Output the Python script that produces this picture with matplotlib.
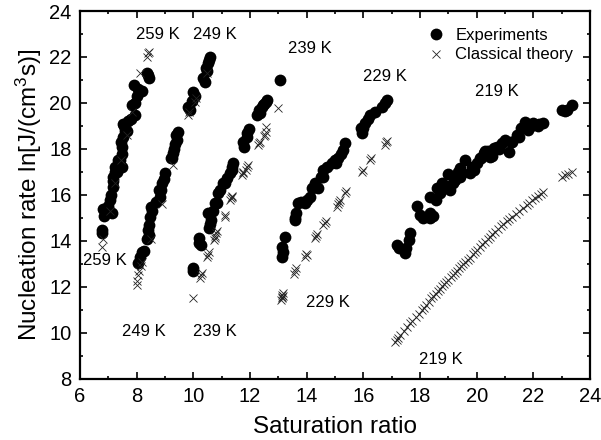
import matplotlib
matplotlib.use("Agg")
import matplotlib.pyplot as plt
from matplotlib.ticker import MultipleLocator

plt.rcParams['font.family'] = ['Liberation Sans', 'DejaVu Sans']
plt.rcParams['mathtext.default'] = 'regular'

# Experimental nucleation rates, ln J, by temperature
exp_259_S = [6.77, 6.77, 6.80, 7.12, 7.06, 7.18, 7.18, 7.24, 7.47, 7.47, 7.50, 7.53,
             7.53, 7.56, 7.94, 7.94, 7.90, 8.18, 8.41, 8.43, 7.30, 7.40, 7.65, 7.80,
             6.85, 7.00, 7.10, 7.15, 7.25, 7.35, 7.45, 7.60, 7.70, 7.85, 8.00, 8.05, 8.38]
exp_259_J = [14.48, 14.35, 15.38, 15.23, 15.78, 16.36, 16.80, 17.23, 17.23, 17.80, 18.10, 18.53,
             19.10, 19.00, 19.48, 19.99, 20.78, 20.50, 21.20, 21.10, 17.00, 17.50, 18.80, 19.30,
             15.10, 15.50, 16.00, 16.60, 17.00, 17.50, 18.30, 18.80, 19.20, 19.90, 20.30, 20.60, 21.30]

exp_249_S = [8.06, 8.18, 8.41, 8.47, 8.50, 8.82, 8.88, 9.00, 9.29, 9.41, 9.45, 9.82,
             10.00, 10.05, 10.35, 10.53, 10.58, 8.45, 8.85, 9.35, 9.20, 10.45,
             8.12, 8.25, 8.38, 8.44, 8.55, 8.70, 8.80, 8.95, 9.25, 9.32, 9.38, 9.88,
             9.95, 10.40, 10.48, 10.55]
exp_249_J = [13.03, 13.53, 14.48, 15.06, 15.49, 15.93, 16.51, 16.94, 17.81, 18.39, 18.75, 19.84,
             20.49, 20.30, 21.07, 21.72, 22.00, 14.25, 16.20, 18.20, 17.60, 21.50,
             13.30, 13.55, 14.10, 14.70, 15.30, 15.70, 16.20, 16.70, 17.60, 18.00, 18.60, 19.70,
             20.10, 20.90, 21.40, 21.85]

exp_239_S = [9.98, 10.21, 10.26, 10.53, 10.56, 10.62, 10.76, 10.88, 11.06, 11.29, 11.41, 11.76,
             11.88, 12.24, 12.35, 12.41, 12.59, 13.06, 11.88, 11.35, 11.12, 10.82, 11.95, 12.50,
             10.00, 10.20, 10.60, 10.70, 10.95, 11.20, 11.38, 11.80, 12.30, 12.45, 12.55]
exp_239_J = [12.81, 14.12, 13.83, 15.20, 14.55, 14.90, 15.64, 16.07, 16.51, 16.94, 17.38, 18.32,
             18.68, 19.48, 19.55, 19.84, 20.13, 21.00, 18.53, 17.23, 16.51, 15.64, 18.85, 19.95,
             12.70, 13.90, 14.75, 15.30, 16.20, 16.75, 17.10, 18.10, 19.70, 19.90, 20.05]

exp_229_S = [13.12, 13.12, 13.24, 13.59, 13.62, 13.71, 14.00, 14.29, 14.40, 14.59, 15.00, 15.29,
             15.35, 13.94, 14.59, 15.94, 16.06, 16.24, 16.65, 16.82, 14.30, 15.05, 15.90, 16.40,
             13.15, 13.60, 13.80, 14.10, 14.20, 14.50, 14.70, 14.90, 15.10, 15.20, 16.00, 16.15, 16.75]
exp_229_J = [13.32, 13.75, 14.19, 14.91, 15.20, 15.64, 15.78, 16.51, 16.30, 17.09, 17.52, 17.96,
             18.25, 15.64, 16.80, 18.68, 19.12, 19.48, 19.84, 20.13, 16.36, 17.40, 18.90, 19.60,
             13.50, 15.00, 15.70, 15.90, 16.30, 16.80, 17.20, 17.40, 17.60, 17.80, 18.90, 19.30, 20.00]

exp_219_S = [17.18, 17.47, 17.65, 17.60, 18.00, 18.35, 18.35, 18.35, 18.76, 19.06, 19.24, 19.47,
             19.41, 19.41, 19.76, 19.82, 20.00, 20.24, 20.47, 20.88, 21.00, 21.12, 21.41, 21.71,
             21.82, 22.00, 22.35, 23.00, 23.18, 23.35, 18.70, 19.00, 19.60, 20.10, 20.60, 21.25,
             21.55, 22.15, 17.90, 18.55, 20.30, 20.70, 17.25, 17.50, 18.10, 18.45, 18.60, 18.90,
             19.15, 19.35, 19.90, 20.15, 20.40, 20.55, 20.80, 21.20, 21.50, 21.90, 22.20, 23.10]
exp_219_J = [13.83, 13.46, 14.33, 14.04, 15.13, 15.20, 14.99, 15.93, 16.51, 16.22, 16.65, 16.94,
             17.16, 16.80, 16.94, 17.23, 17.38, 17.81, 17.67, 18.25, 18.39, 17.88, 18.61, 19.19,
             18.83, 19.12, 19.12, 19.70, 19.70, 19.91, 16.10, 16.90, 17.50, 17.60, 18.05, 18.30,
             18.90, 19.00, 15.50, 15.80, 17.90, 18.10, 13.70, 13.70, 15.00, 15.10, 16.30, 16.40,
             16.50, 17.00, 17.10, 17.60, 17.90, 17.70, 18.00, 18.30, 18.50, 19.00, 19.10, 19.65]

# Classical nucleation theory predictions
cnt_259_S = [6.77, 6.82, 7.05, 7.25, 7.45, 7.65, 7.85, 8.12, 8.41, 8.38, 8.43]
cnt_259_J = [13.75, 14.10, 15.30, 16.50, 17.50, 18.60, 19.60, 21.30, 22.16, 22.00, 22.20]

cnt_249_S = [8.00, 8.03, 8.06, 8.10, 8.15, 8.20, 8.50, 8.90, 9.30, 9.82, 9.85, 10.06, 10.10, 10.47]
cnt_249_J = [12.09, 12.25, 12.50, 12.70, 12.90, 13.10, 14.10, 15.60, 17.30, 19.48, 19.60, 20.06, 20.20, 21.30]

cnt_239_S = [10.00, 10.29, 10.25, 10.53, 10.55, 10.76, 10.80, 10.85, 11.12, 11.29, 11.32, 11.37,
             11.71, 11.76, 11.88, 11.92, 12.29, 12.35, 12.53, 12.58, 13.00, 10.27, 10.50, 10.73,
             10.78, 11.10, 11.35, 11.74, 11.85, 12.32, 12.50, 12.55]
cnt_239_J = [11.51, 12.60, 12.40, 13.39, 13.50, 14.12, 14.33, 14.45, 15.13, 15.78, 15.85, 15.93,
             16.87, 17.00, 17.23, 17.30, 18.17, 18.30, 18.61, 18.97, 19.77, 12.50, 13.30, 14.05,
             14.20, 15.05, 15.95, 16.95, 17.10, 18.25, 18.55, 18.75]

cnt_229_S = [13.10, 13.12, 13.14, 13.16, 13.18, 13.13, 13.59, 13.63, 13.55, 13.94, 13.98, 14.02,
             14.29, 14.33, 14.37, 14.59, 14.63, 14.67, 15.06, 15.10, 15.14, 15.18, 15.35, 15.40,
             15.94, 15.98, 16.24, 16.28, 16.76, 16.80, 16.83]
cnt_229_J = [11.45, 11.55, 11.65, 11.75, 11.62, 11.50, 12.67, 12.80, 12.55, 13.32, 13.45, 13.40,
             14.12, 14.20, 14.28, 14.70, 14.80, 14.88, 15.49, 15.60, 15.68, 15.78, 16.07, 16.15,
             17.01, 17.10, 17.52, 17.60, 18.17, 18.30, 18.35]

cnt_219_S = [17.12, 17.18, 17.22, 17.30, 17.42, 17.55, 17.65, 17.72, 17.85, 17.95, 18.05, 18.12,
             18.22, 18.30, 18.40, 18.47, 18.55, 18.62, 18.70, 18.78, 18.85, 18.92, 19.00, 19.08,
             19.15, 19.22, 19.30, 19.38, 19.45, 19.52, 19.60, 19.68, 19.75, 19.85, 19.92, 20.00,
             20.10, 20.20, 20.28, 20.38, 20.47, 20.55, 20.65, 20.75, 20.85, 20.94, 21.05, 21.15,
             21.25, 21.38, 21.50, 21.62, 21.76, 21.85, 21.95, 22.05, 22.15, 22.25, 22.35, 23.00,
             23.10, 23.20, 23.35]
cnt_219_J = [9.62, 9.70, 9.76, 9.90, 10.08, 10.27, 10.42, 10.52, 10.70, 10.84, 10.98, 11.08,
             11.23, 11.35, 11.50, 11.60, 11.70, 11.80, 11.91, 12.02, 12.12, 12.21, 12.32, 12.42,
             12.51, 12.60, 12.70, 12.80, 12.89, 12.98, 13.08, 13.17, 13.26, 13.44, 13.52, 13.61,
             13.73, 13.85, 13.95, 14.07, 14.19, 14.28, 14.40, 14.52, 14.64, 14.74, 14.85, 14.95,
             15.04, 15.15, 15.28, 15.42, 15.56, 15.66, 15.76, 15.85, 15.94, 16.03, 16.12, 16.80,
             16.86, 16.93, 17.01]

# Temperature labels: (text, S, lnJ)
labels_upper = [("259 K", 8.76, 22.96), ("249 K", 10.76, 22.96), ("239 K", 14.12, 22.35),
                ("229 K", 16.76, 21.13), ("219 K", 20.72, 20.52)]
labels_lower = [("259 K", 6.88, 13.13), ("249 K", 8.26, 10.04), ("239 K", 10.75, 10.04),
                ("229 K", 14.76, 11.30), ("219 K", 18.74, 8.83)]

fig = plt.figure(figsize=(6.01, 4.40), dpi=100)
ax = fig.add_axes([0.133, 0.139, 0.849, 0.836])

exp_sets = [(exp_259_S, exp_259_J), (exp_249_S, exp_249_J), (exp_239_S, exp_239_J),
            (exp_229_S, exp_229_J), (exp_219_S, exp_219_J)]
cnt_sets = [(cnt_259_S, cnt_259_J), (cnt_249_S, cnt_249_J), (cnt_239_S, cnt_239_J),
            (cnt_229_S, cnt_229_J), (cnt_219_S, cnt_219_J)]

for i, (s, j) in enumerate(exp_sets):
    ax.plot(s, j, 'o', color='black', markersize=8.5, markeredgewidth=0,
            label='Experiments' if i == 0 else None, zorder=2)
for i, (s, j) in enumerate(cnt_sets):
    ax.plot(s, j, 'x', color='#222222', markersize=5.5, markeredgewidth=0.6,
            label='Classical theory' if i == 0 else None, zorder=3)

for txt, x, y in labels_upper + labels_lower:
    ax.text(x, y, txt, ha='center', va='center', fontsize=12)

ax.set_xlim(6, 24)
ax.set_ylim(8, 24)
ax.xaxis.set_major_locator(MultipleLocator(2))
ax.xaxis.set_minor_locator(MultipleLocator(1))
ax.yaxis.set_major_locator(MultipleLocator(2))
ax.yaxis.set_minor_locator(MultipleLocator(1))
ax.tick_params(which='both', direction='in', top=True, right=True, width=1.2)
ax.tick_params(which='major', length=5, labelsize=14.5, pad=6)
ax.tick_params(which='minor', length=2.5)
for sp in ax.spines.values():
    sp.set_linewidth(1.6)

ax.set_xlabel('Saturation ratio', fontsize=17.5, labelpad=7)
ax.set_ylabel('Nucleation rate ln[J/(cm$^{3}$s)]', fontsize=17.5, labelpad=4)

ax.legend(loc='upper right', frameon=False, fontsize=12, handletextpad=0.7,
          borderaxespad=0.3, labelspacing=0.25, handlelength=0.9,
          bbox_to_anchor=(0.99, 0.985))

fig.savefig('out.png', dpi=100)
